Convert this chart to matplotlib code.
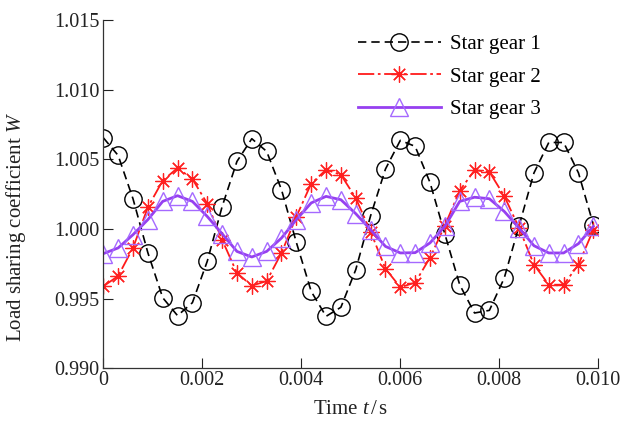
import numpy as np
import matplotlib
matplotlib.use("Agg")
import matplotlib.pyplot as plt

# time samples (s), 0.0003 s step
t = [i * 0.0003 for i in range(34)]

gear1 = [1.00655, 1.00528, 1.00217, 0.99830, 0.99507, 0.99378, 0.99471, 0.99768,
         1.00160, 1.00485, 1.00648, 1.00557, 1.00282, 0.99904, 0.99552, 0.99373,
         0.99438, 0.99708, 1.00095, 1.00430, 1.00636, 1.00593, 1.00334, 0.99964,
         0.99600, 0.99397, 0.99416, 0.99648, 1.00024, 1.00402, 1.00621, 1.00621,
         1.00402, 1.00031]

gear2 = [0.99588, 0.99663, 0.99864, 1.00156, 1.00347, 1.00438, 1.00359, 1.00182,
         0.99923, 0.99684, 0.99593, 0.99626, 0.99828, 1.00088, 1.00326, 1.00425,
         1.00390, 1.00222, 0.99981, 0.99715, 0.99582, 0.99615, 0.99794, 1.00024,
         1.00275, 1.00422, 1.00410, 1.00237, 1.00007, 0.99744, 0.99600, 0.99600,
         0.99744, 0.99995]

gear3 = [0.99823, 0.99864, 0.99959, 1.00067, 1.00198, 1.00239, 1.00198, 1.00090,
         0.99966, 0.99839, 0.99799, 0.99839, 0.99935, 1.00067, 1.00187, 1.00234,
         1.00210, 1.00110, 0.99995, 0.99875, 0.99828, 0.99830, 0.99900, 1.00019,
         1.00198, 1.00228, 1.00217, 1.00126, 1.00007, 0.99880, 0.99828, 0.99828,
         0.99895, 1.00019]

labels = ["Star gear 1", "Star gear 2", "Star gear 3"]
xticks = [0, 0.002, 0.004, 0.006, 0.008, 0.010]
xtick_labels = ["0", "0.002", "0.004", "0.006", "0.008", "0.010"]
yticks = [0.990, 0.995, 1.000, 1.005, 1.010, 1.015]
ytick_labels = ["0.990", "0.995", "1.000", "1.005", "1.010", "1.015"]

plt.rcParams["font.family"] = ["Liberation Serif", "DejaVu Serif"]
plt.rcParams["mathtext.fontset"] = "custom"
plt.rcParams["mathtext.it"] = "Liberation Serif:italic"
plt.rcParams["mathtext.rm"] = "Liberation Serif"
plt.rcParams["font.size"] = 15

fig = plt.figure(figsize=(6.2, 4.23), dpi=100)
ax = fig.add_axes([0.1666, 0.1293, 0.7984, 0.8234])

ax.plot(t, gear1, color="black", lw=1.2, dashes=(5, 3),
        marker="o", ms=12.5, mfc="none", mec="black", mew=1.0, label=labels[0])
ax.plot(t, gear2, color="#ff1a1a", lw=1.3, dashes=(9, 2, 1.5, 2),
        marker=(8, 2, 0), ms=11.5, mec="#ff2020", mew=0.9, label=labels[1])
ax.plot(t, gear3, color="#9640f0", lw=2.0,
        marker="^", ms=12.5, mfc="none", mec="#a569ff", mew=1.0, label=labels[2])

ax.set_xlim(0, 0.010)
ax.set_ylim(0.990, 1.015)
ax.set_xticks(xticks)
ax.set_xticklabels(xtick_labels)
ax.set_yticks(yticks)
ax.set_yticklabels(ytick_labels)
ax.tick_params(direction="in", length=7, width=0.8, colors="#222222",
               labelcolor="#222222", labelsize=14.5)
ax.tick_params(axis="x", pad=2)
ax.tick_params(axis="y", pad=3)
for s in ("top", "right"):
    ax.spines[s].set_visible(False)
for s in ("left", "bottom"):
    ax.spines[s].set_linewidth(0.9)
    ax.spines[s].set_color("#333333")

ax.set_xlabel(r"Time $t\,/\,$s", labelpad=7, color="#222222")
ax.set_ylabel(r"Load sharing coefficient $W$", color="#222222")
ax.yaxis.set_label_coords(-0.152, 0.405)

ax.legend(loc="upper left", bbox_to_anchor=(0.577, 0.918), bbox_transform=fig.transFigure,
          frameon=False, handlelength=4.0, handletextpad=0.45, labelspacing=0.62,
          borderpad=0, borderaxespad=0, numpoints=1)

fig.savefig("out.png", dpi=100)
